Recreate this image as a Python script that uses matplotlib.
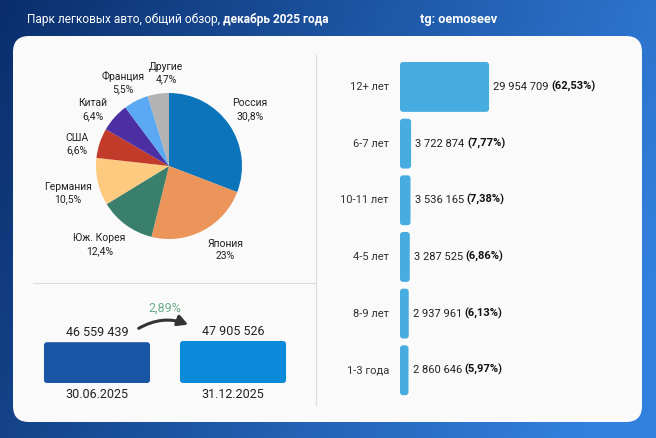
import numpy as np
import matplotlib
matplotlib.use("Agg")
import matplotlib.pyplot as plt
from matplotlib.patches import FancyBboxPatch

plt.rcParams['font.family'] = ['Roboto', 'DejaVu Sans']

W, H = 656, 438

# --- data ---
countries = ["Россия", "Япония", "Юж. Корея", "Германия", "США", "Китай", "Франция", "Другие"]
country_share = [30.8, 23.0, 12.4, 10.5, 6.6, 6.4, 5.5, 4.7]
country_colors = ["#0b74bb", "#eb955b", "#3a7f6b", "#fdca80", "#c23a2a", "#4b2fa3", "#5aa9f2", "#b3b3b3"]

dates = ["30.06.2025", "31.12.2025"]
park_total = [46559439, 47905526]
growth = "2,89%"

age_groups = ["12+ лет", "6-7 лет", "10-11 лет", "4-5 лет", "8-9 лет", "1-3 года"]
age_counts = [29954709, 3722874, 3536165, 3287525, 2937961, 2860646]
age_pct = ["62,53%", "7,77%", "7,38%", "6,86%", "6,13%", "5,97%"]

# label placement around the pie (units of pie radius)
pie_label_xy = [(1.11, 0.77), (0.77, -1.15), (-0.95, -1.08), (-1.38, -0.37),
                (-1.26, 0.30), (-1.04, 0.77), (-0.63, 1.14), (-0.04, 1.27)]


def box(x0, y0, x1, y1):
    # pixel box (top-left origin) -> figure fraction
    return [x0 / W, 1 - y1 / H, (x1 - x0) / W, (y1 - y0) / H]


def fmt(n):
    return f"{n:,}".replace(",", " ")


def round_bars(ax, bars, r_px):
    x0, x1 = ax.get_xlim()
    y0, y1 = ax.get_ylim()
    dx = abs(x1 - x0) / ax.bbox.width
    dy = abs(y1 - y0) / ax.bbox.height
    for b in bars:
        p = FancyBboxPatch((b.get_x(), b.get_y()), b.get_width(), b.get_height(),
                           boxstyle=f"round,pad=0,rounding_size={r_px * dx}",
                           mutation_aspect=dy / dx, fc=b.get_facecolor(), ec="none")
        b.remove()
        ax.add_patch(p)


fig = plt.figure(figsize=(W / 100, H / 100), dpi=100)

# background gradient + white panel
bg = fig.add_axes([0, 0, 1, 1])
tx = np.linspace(0, 1, 200)[None, :]
ty = np.linspace(0, 1, 120)[:, None]
t = np.clip(0.85 * tx + 0.25 * ty, 0, 1)
c0 = np.array([0x0a, 0x2e, 0x6c]) / 255
c1 = np.array([0x32, 0x80, 0xde]) / 255
img = c0[None, None, :] * (1 - t[..., None]) + c1[None, None, :] * t[..., None]
bg.imshow(img, extent=[0, W, H, 0], aspect="auto")
bg.set_xlim(0, W)
bg.set_ylim(H, 0)
bg.axis("off")
bg.add_patch(FancyBboxPatch((13, 36), 629, 386, boxstyle="round,pad=0,rounding_size=16",
                            fc="#fafafa", ec="none"))
bg.plot([316, 316], [55, 405], color="#dddddd", lw=0.8)
bg.plot([33, 316], [283, 283], color="#dddddd", lw=0.8)

t1 = bg.text(27, 20, "Парк легковых авто, общий обзор, ", color="white", fontsize=8.6, va="center")
bg.annotate("декабрь 2025 года", xy=(1, 0), xycoords=t1, color="white", fontsize=8.6,
            fontweight="bold", va="bottom")
bg.text(497, 20, "tg: oemoseev", color="white", fontsize=9.2, fontweight="bold",
        va="center", ha="right")

# pie
r = 73
axp = fig.add_axes(box(169 - 1.25 * r, 166 - 1.25 * r, 169 + 1.25 * r, 166 + 1.25 * r))
labels = [f"{c}\n{str(v).replace('.', ',').replace(',0', '')}%" for c, v in zip(countries, country_share)]
wedges, texts = axp.pie(country_share, colors=country_colors, startangle=90, counterclock=False,
                        labels=labels, wedgeprops=dict(linewidth=0),
                        textprops=dict(fontsize=7.5, color="#222222"))
for tt, pos in zip(texts, pie_label_xy):
    tt.set_position(pos)
    tt.set_ha("center")
    tt.set_va("center")
    tt.set_multialignment("center")
    tt.set_linespacing(1.35)

# total park bars
axb = fig.add_axes(box(29, 300, 301, 383))
axb.set_xlim(-0.5, 1.5)
axb.set_ylim(0, 94.7e6)
bars = axb.bar(range(2), park_total, width=0.78, color=["#1a56a6", "#0a8ad8"])
round_bars(axb, bars, 3)
axb.axis("off")
vt = []
for i, v in enumerate(park_total):
    vt.append(axb.annotate(fmt(v), xy=(i, v), xytext=(0, 3), textcoords="offset pixels",
                           ha="center", va="bottom", fontsize=9, color="#222222"))
    axb.annotate(dates[i], xy=(i, 0), xytext=(0, -5), textcoords="offset pixels",
                 ha="center", va="top", fontsize=9, color="#222222")
axb.annotate("", xy=(0, 0.5), xycoords=vt[1], xytext=(1, 0.3), textcoords=vt[0],
             arrowprops=dict(arrowstyle="-|>,head_length=0.6,head_width=0.32", color="#333333",
                             lw=2.2, shrinkA=9, shrinkB=11, connectionstyle="arc3,rad=-0.35"))
axb.text(0.5, (383 - 308) / 83, growth, transform=axb.transAxes, ha="center", va="center",
         fontsize=9, color="#6dae8c")

# age bars
axr = fig.add_axes(box(400, 58.6, 620, 398.6))
axr.set_xlim(0, 74e6)
axr.set_ylim(5.5, -0.5)
hb = axr.barh(range(len(age_counts)), age_counts, height=0.88, color="#47ace0")
round_bars(axr, hb, 3)
axr.axis("off")
for i, (g, v, p) in enumerate(zip(age_groups, age_counts, age_pct)):
    axr.annotate(g, xy=(0, i), xytext=(-11, 0), textcoords="offset pixels",
                 ha="right", va="center", fontsize=8, color="#333333")
    tv = axr.annotate(fmt(v) + " ", xy=(v, i), xytext=(4, 0), textcoords="offset pixels",
                      ha="left", va="center", fontsize=8, color="#222222")
    axr.annotate(f"({p})", xy=(1, 0), xycoords=tv, ha="left", va="bottom",
                 fontsize=8, fontweight="bold", color="#111111")

fig.savefig("out.png", dpi=100)
